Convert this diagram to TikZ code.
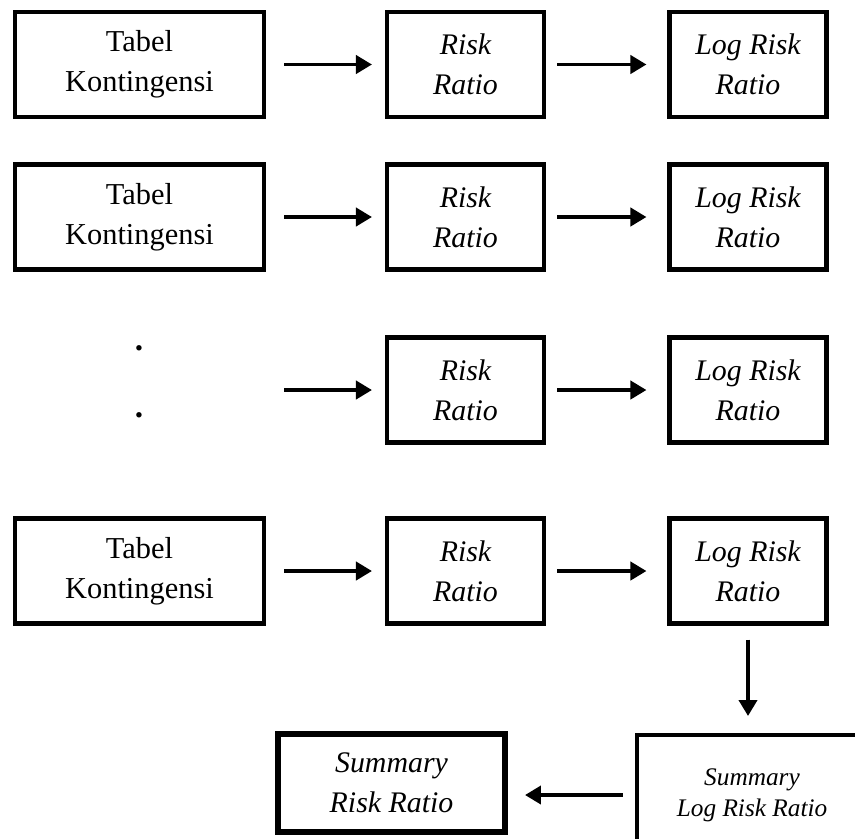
\documentclass[tikz,border=0pt]{standalone}
\usepackage{fontspec}
\setmainfont{Liberation Serif}
\usetikzlibrary{arrows.meta, positioning, calc}

\begin{document}
\begin{tikzpicture}[
  tabbox/.style={rectangle, draw, line width=2.3pt, minimum width=4.98cm, minimum height=2.1cm, inner sep=0pt, align=center, font=\fontsize{17.3pt}{22.8pt}\selectfont},
  ratiobox/.style={tabbox, minimum width=3.14cm, font=\fontsize{17pt}{22.8pt}\selectfont\itshape},
  flow/.style={-{Triangle[length=0.32cm, width=0.36cm]}, line width=2.2pt},
  ]
  \useasboundingbox (0, 0) rectangle (17.1, -16.76);

  % contingency tables, row 3 only has dots
  \foreach \r/\y in {1/-1.29, 2/-4.34, 4/-11.42}{
    \node[tabbox] (tab\r) at (2.79, \y) {Tabel\\Kontingensi};
  }
  \node[anchor=base, inner sep=0pt, font=\fontsize{19pt}{20pt}\selectfont\bfseries] (dota) at (2.78, -7.0) {.};
  \node[anchor=base, inner sep=0pt, font=\fontsize{19pt}{20pt}\selectfont\bfseries] (dotb) at (2.78, -8.34) {.};

  % risk ratio and log risk ratio per row
  \foreach \r/\y in {1/-1.29, 2/-4.34, 3/-7.8, 4/-11.42}{
    \node[ratiobox] (risk\r) at (9.31, \y) {Risk\\Ratio};
    \node[ratiobox] (log\r) at (14.96, \y) {Log Risk\\Ratio};
  }

  \coordinate (gap3) at (tab1.east |- risk3);

  \foreach \r in {1, 2, 4}{
    \draw[flow, shorten <=0.36cm, shorten >=0.26cm] (tab\r.east) -- (risk\r.west);
  }
  \draw[flow, shorten <=0.36cm, shorten >=0.26cm] (gap3) -- (risk3.west);

  \foreach \r in {1, ..., 4}{
    \draw[flow, shorten <=0.22cm, shorten >=0.42cm] (risk\r.east) -- (log\r.west);
  }

  % summary boxes
  \node[ratiobox, line width=3.4pt, minimum width=4.54cm, minimum height=1.96cm] (srr) at (7.83, -15.66) {Summary\\Risk Ratio};
  \node[ratiobox, minimum width=4.6cm, minimum height=2.4cm, font=\fontsize{14.4pt}{17.5pt}\selectfont\itshape] (slog) at (15.04, -15.9) {Summary\\Log Risk Ratio};

  \draw[flow, shorten <=0.28cm, shorten >=0.34cm] (log4.south) -- (log4.south |- slog.north);
  \draw[flow, shorten <=0.24cm, shorten >=0.34cm] (slog.west) -- (slog.west -| srr.east);

\end{tikzpicture}
\end{document}
